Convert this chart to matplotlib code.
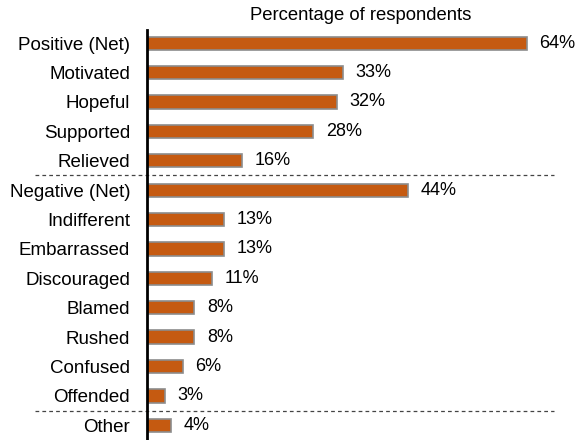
import matplotlib
matplotlib.use("Agg")
import matplotlib.pyplot as plt

categories = ["Positive (Net)", "Motivated", "Hopeful", "Supported", "Relieved",
              "Negative (Net)", "Indifferent", "Embarrassed", "Discouraged",
              "Blamed", "Rushed", "Confused", "Offended", "Other"]
values = [64, 33, 32, 28, 16, 44, 13, 13, 11, 8, 8, 6, 3, 4]
separators_after = [4, 12]
title = "Percentage of respondents"

plt.rcParams['font.family'] = ['Liberation Sans', 'DejaVu Sans']

fig = plt.figure(figsize=(5.76, 4.4), dpi=100)
ax = fig.add_axes([0.255, 0.0, 0.722, 0.932])

ypos = list(range(len(categories)))
ax.barh(ypos, values, height=0.45, color="#C55A11", edgecolor="#8C8C8C", linewidth=1.2)

for y, v in zip(ypos, values):
    ax.annotate(f"{v}%", (v, y), xytext=(9, 0), textcoords="offset points",
                va="center", ha="left", fontsize=13)

for s in separators_after:
    ax.plot([-0.27, 0.98], [s + 0.5, s + 0.5], transform=ax.get_yaxis_transform(),
            color="#444444", linestyle=(0, (3, 2.5)), linewidth=0.9, clip_on=False)

ax.set_xlim(0, 70)
ax.set_ylim(13.5, -0.45)
ax.set_yticks(ypos)
ax.set_yticklabels(categories, fontsize=13.5)
ax.tick_params(axis="y", length=0, pad=12)
ax.set_xticks([])
for side in ["top", "right", "bottom"]:
    ax.spines[side].set_visible(False)
ax.spines["left"].set_linewidth(2)
ax.spines["left"].set_color("black")

fig.text(361 / 576, 1 - 15 / 440, title, ha="center", va="center", fontsize=13.3)

fig.savefig("out.png", dpi=100)
